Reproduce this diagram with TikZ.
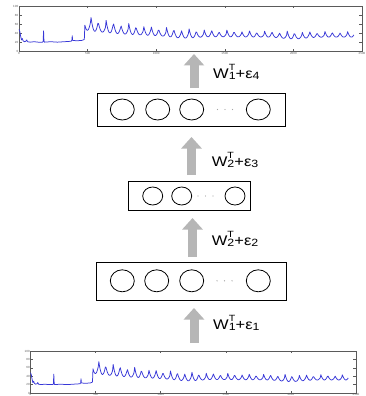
\documentclass[tikz,border=0pt]{standalone}
\usepackage{fontspec}
\setmainfont{Liberation Sans}
\usetikzlibrary{arrows.meta,shapes.geometric}
\definecolor{sigblue}{RGB}{55,55,215}
\definecolor{arrgray}{RGB}{182,182,182}
\definecolor{frmgray}{RGB}{90,90,90}
\tikzset{
  declare function={
    sq(\a)=\a*\a;
    pk(\x)=43+37*exp(-(\x-480)/450);
    tr(\x)=31+16*exp(-(\x-480)/350)-4*exp(-min(sq((\x-1200)/120),9))-4*exp(-min(sq((\x-2000)/110),9));
    ph(\x)=mod(\x-470,55)/55;
    kk(\x)=floor((\x-470)/55);
    sg(\x)=tr(\x)+(pk(\x)-tr(\x))*(0.8+0.2*sin(kk(\x)*137))*sq(2*ph(\x)-1);
  },
  sig/.style={draw=sigblue, line width=0.75pt, line join=round},
  frm/.style={draw=frmgray, line width=0.5pt},
  ticklab/.style={font=\fontsize{3}{3}\selectfont, text=frmgray, inner sep=0.6pt},
  layerbox/.style={draw=black, line width=0.9pt, rectangle, inner sep=0pt},
  unitbig/.style={draw=black, line width=0.8pt, ellipse, inner sep=0pt, minimum width=24pt, minimum height=21pt},
  unitsmall/.style={draw=black, line width=0.8pt, ellipse, inner sep=0pt, minimum width=20pt, minimum height=18pt},
  dotnode/.style={circle, fill=gray!70, inner sep=0pt, minimum size=1.4pt},
  blk/.style={draw=arrgray, line width=9pt, -{Triangle[width=20pt,length=11.5pt]}},
  wlabel/.style={anchor=base west, inner sep=0pt, font=\fontsize{14}{14}\selectfont},
}
\newcommand{\sigpath}{%
  \draw[sig] (0,48) -- (6,44) -- (12,33) -- (18,25) -- (24,28) -- (30,23) -- (40,21) -- (50,22) -- (56,25) -- (62,21) -- (80,20) -- (110,21) -- (140,20) -- (172,20) -- (176,22) -- (179,45) -- (182,22) -- (186,20) -- (230,21) -- (280,20) -- (330,21) -- (380,22) -- (385,24) -- (388,34) -- (391,24) -- (420,23) -- (460,24) -- (476,26) -- plot[domain=480:2440,samples=393] (\x,{sg(\x)});
}
\newcommand{\plotframe}[1]{%
  \draw[frm] (0,0) rectangle (2500,100);
  \foreach \t in {500,1000,1500,2000} {\draw[frm] (\t,0) -- ++(0,4); \draw[frm] (\t,100) -- ++(0,-4);}
  \foreach \v in {20,40,60,80} {\draw[frm] (0,\v) -- ++(22,0); \draw[frm] (2500,\v) -- ++(-22,0);}
  \foreach \t in {0,500,...,2500} {\node[ticklab,below] (#1x\t) at (\t,0) {\t};}
  \foreach \v in {0,20,...,100} {\node[ticklab,left] (#1y\v) at (0,\v) {\v};}
}
\newcommand{\wlab}[2]{\scalebox{1.18}[1]{W\rlap{\raisebox{0.56em}{\fontsize{9}{9}\selectfont T}}\raisebox{-0.1em}{\fontsize{10.5}{10}\selectfont #1}+ε\raisebox{-0.1em}{\fontsize{10.5}{10}\selectfont #2}}}
\begin{document}
\begin{tikzpicture}[x=1pt,y=-1pt]
\useasboundingbox (0,0) rectangle (366,396);
% top plot
\begin{scope}[shift={(19,51.2)}, x=0.1372pt, y=0.452pt]
  \plotframe{t}
  \sigpath
\end{scope}
% bottom plot
\begin{scope}[shift={(30.5,393)}, x=0.1302pt, y=0.42pt]
  \plotframe{b}
  \sigpath
\end{scope}
% layer boxes
\node[layerbox, minimum width=188pt, minimum height=33pt] (box1) at (191,109.6) {};
\node[layerbox, minimum width=122pt, minimum height=28.5pt] (box2) at (189.2,196) {};
\node[layerbox, minimum width=190pt, minimum height=38pt] (box3) at (191.7,281) {};
% units box1
\node[unitbig] (u11) at (122.3,109.5) {};
\node[unitbig] (u12) at (157.7,109.5) {};
\node[unitbig] (u13) at (191.7,109.5) {};
\node[unitbig] (u14) at (258.3,109.5) {};
\node[dotnode] (d11) at (217.5,109.5) {};
\node[dotnode] (d12) at (225,109.5) {};
\node[dotnode] (d13) at (232.5,109.5) {};
% units box2
\node[unitsmall] (u21) at (152.7,196) {};
\node[unitsmall] (u22) at (181.7,196) {};
\node[unitsmall] (u23) at (235,196) {};
\node[dotnode] (d21) at (198,196) {};
\node[dotnode] (d22) at (205.5,196) {};
\node[dotnode] (d23) at (213,196) {};
% units box3
\node[unitbig, minimum height=22pt] (u31) at (122.3,280.8) {};
\node[unitbig, minimum height=22pt] (u32) at (156.7,280.8) {};
\node[unitbig, minimum height=22pt] (u33) at (191.7,280.8) {};
\node[unitbig, minimum height=22pt] (u34) at (258.3,280.8) {};
\node[dotnode] (d31) at (217,280.8) {};
\node[dotnode] (d32) at (224.5,280.8) {};
\node[dotnode] (d33) at (232,280.8) {};
% arrows
\coordinate (a1s) at (194,88);  \coordinate (a1e) at (194,54);
\coordinate (a2s) at (191.5,175); \coordinate (a2e) at (191.5,137);
\coordinate (a3s) at (192.5,257); \coordinate (a3e) at (192.5,218);
\coordinate (a4s) at (194,343); \coordinate (a4e) at (194,308);
\draw[blk] (a1s) -- (a1e);
\draw[blk] (a2s) -- (a2e);
\draw[blk] (a3s) -- (a3e);
\draw[blk] (a4s) -- (a4e);
% labels
\node[wlabel] (l4) at (213,78) {\wlab{1}{4}};
\node[wlabel] (l3) at (211.7,166.5) {\wlab{2}{3}};
\node[wlabel] (l2) at (211.7,245) {\wlab{2}{2}};
\node[wlabel] (l1) at (213,329.3) {\wlab{1}{1}};
\end{tikzpicture}
\end{document}
